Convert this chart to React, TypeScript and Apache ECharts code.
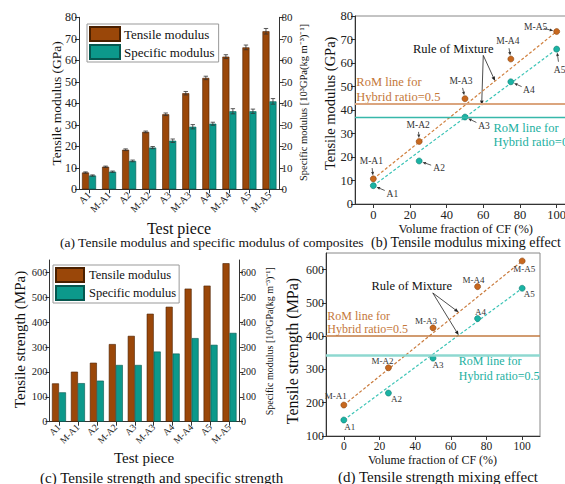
import React, { useEffect, useRef } from "react";
import * as echarts from "echarts";

// ---------- data ----------
const pieces = ["A1", "M-A1", "A2", "M-A2", "A3", "M-A3", "A4", "M-A4", "A5", "M-A5"];
const tensileModulus = [7.8, 10.5, 18.4, 26.7, 34.9, 44.7, 51.8, 61.7, 66.0, 73.5];
const tensileModulusErr = [0.3, 0.3, 0.4, 0.4, 0.6, 0.8, 0.8, 0.9, 1.1, 1.3];
const specificModulus = [6.4, 8.2, 13.2, 19.4, 22.6, 29.1, 30.5, 36.3, 36.3, 40.9];
const specificModulusErr = [0.3, 0.3, 0.4, 0.5, 0.8, 1.0, 0.7, 1.2, 1.0, 1.3];
const tensileStrength = [154, 201, 237, 312, 345, 434, 462, 535, 547, 637];
const specificStrength = [118, 155, 165, 228, 228, 282, 274, 336, 309, 357];

const cfFraction = [0, 25, 50, 75, 100];
const hybridNames = ["M-A1", "M-A2", "M-A3", "M-A4", "M-A5"];
const plainNames = ["A1", "A2", "A3", "A4", "A5"];
const modulusHybrid = [10.7, 26.6, 44.8, 61.7, 73.4];
const modulusPlain = [7.8, 18.3, 37.0, 52.0, 65.9];
const strengthHybrid = [193, 305, 425, 549, 626];
const strengthPlain = [148, 229, 334, 453, 544];
const romModulusHybrid = 42.5;
const romModulusPlain = 37.0;
const romStrengthHybrid = 400;
const romStrengthPlain = 343;

const modulusTicks = [0, 10, 20, 30, 40, 50, 60, 70, 80];
const percentTicks = [0, 20, 40, 60, 80, 100];
const strengthTicksC = [0, 100, 200, 300, 400, 500, 600];
const strengthTicksD = [100, 200, 300, 400, 500, 600];

// ---------- layout / style config ----------
const serif = "'Liberation Serif', 'Times New Roman', serif";
const BROWN = "#9A4709";
const TEAL = "#0C998B";
const PT_OR = "#C8681E";
const PT_TE = "#1AB3A4";
const BAR_W = 7;

const labelOffsetB: Record<string, [number, number]> = {
  "M-A1": [-2, -18], A1: [19, 8], "M-A2": [-1, -16], A2: [20, 7], "M-A3": [-4, -18],
  A3: [19, 9], "M-A4": [-3, -18], A4: [18, 8], "M-A5": [-21, -5], A5: [3, 21],
};
const labelOffsetD: Record<string, [number, number]> = {
  "M-A1": [-8, -9], A1: [6, 7], "M-A2": [-6, -7], A2: [8, 6], "M-A3": [-7, -7],
  A3: [5, 7], "M-A4": [-4, -7], A4: [3, -7], "M-A5": [2, 8], A5: [7, 6],
};

function arrowEls(x1: number, y1: number, x2: number, y2: number, head = 4.5, hw = 1.8, color = "#222") {
  const ang = Math.atan2(y2 - y1, x2 - x1);
  const bx = x2 - head * Math.cos(ang);
  const by = y2 - head * Math.sin(ang);
  const px = -Math.sin(ang) * hw;
  const py = Math.cos(ang) * hw;
  return [
    { type: "line", shape: { x1, y1, x2: bx, y2: by }, style: { stroke: color, lineWidth: 0.8 } },
    { type: "polygon", shape: { points: [[x2, y2], [bx + px, by + py], [bx - px, by - py]] }, style: { fill: color } },
  ];
}

function textEl(text: string, x: number, y: number, size: number, opts: any = {}) {
  const align = opts.align || "center";
  return {
    type: "text",
    x,
    y,
    rotation: opts.rotation || 0,
    silent: true,
    style: {
      text,
      fill: opts.color || "#111",
      font: `${size}px ${serif}`,
      align,
      textAlign: align,
      verticalAlign: "middle",
      textVerticalAlign: "middle",
    },
  };
}

function valueAxis(gridIndex: number, extra: any, fontSize: number, labelMargin = 2) {
  return {
    type: "value",
    gridIndex,
    axisLine: { show: true, onZero: false, lineStyle: { color: "#333", width: 1 } },
    axisTick: { show: true, inside: false, length: 4, lineStyle: { color: "#333" }, ...(extra.tickValues ? { customValues: extra.tickValues } : {}) },
    axisLabel: { color: "#222", fontSize, fontFamily: serif, margin: labelMargin, ...(extra.tickValues ? { customValues: extra.tickValues } : {}) },
    splitLine: { show: false },
    ...extra.base,
  };
}

function categoryAxis(gridIndex: number, fontSize: number) {
  return {
    type: "category",
    gridIndex,
    data: pieces,
    axisLine: { show: true, lineStyle: { color: "#333" } },
    axisTick: { show: true, alignWithLabel: true, length: 4, lineStyle: { color: "#333" } },
    axisLabel: { rotate: 45, fontSize, fontFamily: serif, color: "#222", margin: 4, interval: 0 },
    splitLine: { show: false },
  };
}

function errorSeries(xAxisIndex: number, yAxisIndex: number, values: number[], errs: number[], side: number) {
  return {
    type: "custom",
    xAxisIndex,
    yAxisIndex,
    z: 5,
    silent: true,
    data: values.map((v, i) => [i, v, errs[i]]),
    renderItem: (_p: any, api: any) => {
      const i = api.value(0);
      const v = api.value(1);
      const e = api.value(2);
      const top = api.coord([i, v + e]);
      const bot = api.coord([i, v - e]);
      const x = top[0] + (side * BAR_W) / 2;
      const cap = 2.2;
      const st = { stroke: "#333", lineWidth: 0.8 };
      return {
        type: "group",
        children: [
          { type: "line", shape: { x1: x, y1: top[1], x2: x, y2: bot[1] }, style: st },
          { type: "line", shape: { x1: x - cap, y1: top[1], x2: x + cap, y2: top[1] }, style: st },
          { type: "line", shape: { x1: x - cap, y1: bot[1], x2: x + cap, y2: bot[1] }, style: st },
        ],
      };
    },
  };
}

function annotSeries(xAxisIndex: number, yAxisIndex: number, ys: number[], names: string[], offsets: Record<string, [number, number]>, withArrow: boolean, fontSize: number) {
  return {
    type: "custom",
    xAxisIndex,
    yAxisIndex,
    z: 10,
    silent: true,
    data: cfFraction.map((x, i) => [x, ys[i], i]),
    renderItem: (_p: any, api: any) => {
      const i = api.value(2);
      const p = api.coord([api.value(0), api.value(1)]);
      const [dx, dy] = offsets[names[i]];
      const children: any[] = [
        {
          type: "text",
          x: p[0] + dx,
          y: p[1] + dy,
          style: { text: names[i], fill: "#333", font: `${fontSize}px ${serif}`, align: "center", verticalAlign: "middle" },
        },
      ];
      if (withArrow) {
        const len = Math.sqrt(dx * dx + dy * dy);
        const ux = dx / len;
        const uy = dy / len;
        children.push(...arrowEls(p[0] + dx * 0.6, p[1] + dy * 0.6, p[0] + ux * 3.5, p[1] + uy * 3.5, 3.5, 1.5, "#333"));
      }
      return { type: "group", children };
    },
  };
}

function barSeries(name: string, xAxisIndex: number, yAxisIndex: number, data: number[], color: string, border: string) {
  return {
    name,
    type: "bar",
    xAxisIndex,
    yAxisIndex,
    data,
    barWidth: BAR_W,
    barGap: "0%",
    itemStyle: { color, borderColor: border, borderWidth: 0.6 },
  };
}

function romSeries(name: string, xAxisIndex: number, yAxisIndex: number, ys: number[], color: string, rom: number, romColor: string, romWidth: number) {
  return {
    name,
    type: "line",
    xAxisIndex,
    yAxisIndex,
    z: 2,
    silent: true,
    symbol: "none",
    data: [
      [cfFraction[0], ys[0]],
      [cfFraction[cfFraction.length - 1], ys[ys.length - 1]],
    ],
    lineStyle: { color, width: 1.2, type: [3, 2] },
    markLine: {
      silent: true,
      symbol: "none",
      label: { show: false },
      data: [{ yAxis: rom, lineStyle: { color: romColor, width: romWidth, type: "solid" } }],
    },
  };
}

function scatterSeries(name: string, xAxisIndex: number, yAxisIndex: number, ys: number[], color: string, border: string) {
  return {
    name,
    type: "scatter",
    xAxisIndex,
    yAxisIndex,
    z: 4,
    symbolSize: 6,
    data: cfFraction.map((x, i) => [x, ys[i]]),
    itemStyle: { color, borderColor: border, borderWidth: 0.6, opacity: 1 },
  };
}

function lerp(xs: number[], ys: number[], x: number) {
  const x0 = xs[0];
  const x1 = xs[xs.length - 1];
  return ys[0] + ((ys[ys.length - 1] - ys[0]) * (x - x0)) / (x1 - x0);
}

export default function App() {
  const ref = useRef<HTMLDivElement>(null);
  useEffect(() => {
    document.body.style.margin = "0";
    const chart = echarts.init(ref.current!, undefined, { renderer: "svg", width: 565, height: 484 });
    const option: any = {
      animation: false,
      backgroundColor: "#fff",
      textStyle: { fontFamily: serif },
      grid: [
        { left: 79, top: 17.3, width: 200.5, height: 172, outerBoundsMode: "none" },
        { left: 355, top: 16, width: 220, height: 188, show: true, borderColor: "#888", borderWidth: 1, backgroundColor: "transparent", outerBoundsMode: "none" },
        { left: 49.5, top: 260, width: 189.5, height: 161.7, outerBoundsMode: "none" },
        { left: 326, top: 253, width: 214, height: 183, show: true, borderColor: "#888", borderWidth: 1, backgroundColor: "transparent", outerBoundsMode: "none" },
      ],
      legend: [
        {
          data: ["Tensile modulus", "Specific modulus"],
          left: 87,
          top: 24,
          orient: "vertical",
          icon: "rect",
          itemWidth: 30,
          itemHeight: 14,
          itemGap: 2,
          padding: [2, 4, 2, 2],
          borderColor: "#999",
          borderWidth: 1,
          borderRadius: 0,
          textStyle: { fontSize: 13, fontFamily: serif, color: "#111", padding: [0, 0, 0, -1] },
          selectedMode: false,
        },
        {
          data: ["Tensile modulus", "Specific modulus"],
          left: 53,
          top: 265,
          orient: "vertical",
          icon: "rect",
          itemWidth: 28,
          itemHeight: 14,
          itemGap: 2,
          padding: [2, 3, 2, 2],
          borderColor: "#999",
          borderWidth: 1,
          borderRadius: 0,
          textStyle: { fontSize: 12.5, fontFamily: serif, color: "#111" },
          selectedMode: false,
        },
      ],
      xAxis: [
        categoryAxis(0, 10),
        {
          ...valueAxis(1, { tickValues: percentTicks, base: { min: -10, max: 110 } }, 12.5, 4),
        },
        categoryAxis(2, 9.5),
        {
          ...valueAxis(3, { tickValues: percentTicks, base: { min: -10, max: 110 } }, 11.5, 4),
        },
      ],
      yAxis: [
        valueAxis(0, { base: { min: modulusTicks[0], max: modulusTicks[modulusTicks.length - 1], interval: 10 } }, 12),
        valueAxis(0, { base: { position: "right", min: modulusTicks[0], max: modulusTicks[modulusTicks.length - 1], interval: 10 } }, 11),
        valueAxis(1, { base: { min: modulusTicks[0], max: modulusTicks[modulusTicks.length - 1], interval: 10 } }, 12.5),
        valueAxis(2, { tickValues: strengthTicksC, base: { min: 0, max: 650 } }, 10.5),
        valueAxis(2, { tickValues: strengthTicksC, base: { position: "right", min: 0, max: 650 } }, 10),
        valueAxis(3, { tickValues: strengthTicksD, base: { min: 100, max: 650 } }, 12),
      ],
      series: [
        barSeries("Tensile modulus", 0, 0, tensileModulus, BROWN, "#4a2000"),
        barSeries("Specific modulus", 0, 1, specificModulus, TEAL, "#06574f"),
        errorSeries(0, 0, tensileModulus, tensileModulusErr, -1),
        errorSeries(0, 1, specificModulus, specificModulusErr, 1),

        romSeries("RoM hybrid (b)", 1, 2, modulusHybrid, "#D0803F", romModulusHybrid, "#DBA57E", 2),
        romSeries("RoM plain (b)", 1, 2, modulusPlain, "#3CC4B6", romModulusPlain, "#37B8AA", 1.4),
        scatterSeries("Hybrid (b)", 1, 2, modulusHybrid, PT_OR, "#8a4410"),
        scatterSeries("Plain (b)", 1, 2, modulusPlain, PT_TE, "#0f7c71"),
        annotSeries(1, 2, modulusHybrid, hybridNames, labelOffsetB, true, 9.5),
        annotSeries(1, 2, modulusPlain, plainNames, labelOffsetB, true, 9.5),

        barSeries("Tensile modulus", 2, 3, tensileStrength, BROWN, "#4a2000"),
        barSeries("Specific modulus", 2, 4, specificStrength, TEAL, "#06574f"),

        romSeries("RoM hybrid (d)", 3, 5, strengthHybrid, "#C97A3C", romStrengthHybrid, "#C27A40", 1.5),
        romSeries("RoM plain (d)", 3, 5, strengthPlain, "#3CC4B6", romStrengthPlain, "#8ED8D0", 2.5),
        scatterSeries("Hybrid (d)", 3, 5, strengthHybrid, PT_OR, "#8a4410"),
        scatterSeries("Plain (d)", 3, 5, strengthPlain, PT_TE, "#0f7c71"),
        annotSeries(3, 5, strengthHybrid, hybridNames, labelOffsetD, false, 9),
        annotSeries(3, 5, strengthPlain, plainNames, labelOffsetD, false, 9),
      ],
    };
    chart.setOption(option);

    const pB = (pt: number[]) => chart.convertToPixel({ gridIndex: 1 } as any, pt) as number[];
    const pD = (pt: number[]) => chart.convertToPixel({ gridIndex: 3 } as any, pt) as number[];

    // Rule of Mixture arrows
    const ruleB = pB([43.6, 65.8]);
    const bT1 = pB([66.4, lerp(cfFraction, modulusHybrid, 66.4)]);
    const bT2 = pB([59.1, lerp(cfFraction, modulusPlain, 59.1)]);
    const ruleD = pD([38.1, 551]);
    const dT1 = pD([64.4, lerp(cfFraction, strengthHybrid, 64.4)]);
    const dT2 = pD([64.4, lerp(cfFraction, strengthPlain, 64.4)]);

    const romB1 = pB([-9, romModulusHybrid]);
    const romB2 = pB([65.5, romModulusPlain]);
    const romD1 = pD([-9, romStrengthHybrid]);
    const romD2 = pD([64.5, romStrengthPlain]);

    const graphic: any[] = [
      // axis titles (a)
      textEl("Tensile modulus (GPa)", 56, 103.3, 13.5, { rotation: Math.PI / 2 }),
      textEl("Specific modulus [10³GPa(kg m⁻³)⁻¹]", 303.5, 102.5, 10.5, { rotation: Math.PI / 2 }),
      textEl("Test piece", 179, 228, 16),
      // (b)
      textEl("Tensile modulus (GPa)", 330, 103.3, 14.5, { rotation: Math.PI / 2 }),
      textEl("Volume fraction of CF (%)", 465.8, 229.3, 12.5),
      // captions top
      textEl("(a) Tensile modulus and specific modulus of composites", 60, 242.5, 13.5, { align: "left" }),
      textEl("(b) Tensile modulus mixing effect", 371, 242.5, 14, { align: "left" }),
      // (c)
      textEl("Tensile strength (MPa)", 20, 339.5, 15, { rotation: Math.PI / 2 }),
      textEl("Specific modulus [10³GPa(kg m⁻³)⁻¹]", 269.3, 341.3, 10, { rotation: Math.PI / 2 }),
      textEl("Test piece", 144, 458.3, 15),
      // (d)
      textEl("Tensile strength (MPa)", 292.3, 351, 16, { rotation: Math.PI / 2 }),
      textEl("Volume fraction of CF (%)", 432.5, 460, 12),
      textEl("(c) Tensile strength and specific strength", 40, 477.5, 15, { align: "left" }),
      textEl("(d) Tensile strength mixing effect", 338, 477, 15, { align: "left" }),

      // RoM texts (b)
      textEl("RoM line for", romB1[0] - 0.5, romB1[1] - 22.3, 12.5, { align: "left", color: "#C4773A" }),
      textEl("Hybrid ratio=0.5", romB1[0] - 0.5, romB1[1] - 7.4, 12.5, { align: "left", color: "#C4773A" }),
      textEl("RoM line for", romB2[0] + 0, romB2[1] + 10.5, 12.5, { align: "left", color: "#22B0A1" }),
      textEl("Hybrid ratio=0.5", romB2[0] + 0, romB2[1] + 24.5, 12.5, { align: "left", color: "#22B0A1" }),
      // RoM texts (d)
      textEl("RoM line for", romD1[0] - 0.5, romD1[1] - 20.3, 12, { align: "left", color: "#C4773A" }),
      textEl("Hybrid ratio=0.5", romD1[0] - 0.5, romD1[1] - 7, 12, { align: "left", color: "#C4773A" }),
      textEl("RoM line for", romD2[0], romD2[1] + 5.8, 12, { align: "left", color: "#22B0A1" }),
      textEl("Hybrid ratio=0.5", romD2[0], romD2[1] + 20.6, 12, { align: "left", color: "#22B0A1" }),

      // Rule of mixture
      textEl("Rule of Mixture", ruleB[0], ruleB[1], 12.5, { color: "#111" }),
      ...arrowEls(ruleB[0] + 30, ruleB[1] + 6, bT1[0], bT1[1]),
      ...arrowEls(ruleB[0] + 30, ruleB[1] + 6, bT2[0], bT2[1]),
      textEl("Rule of Mixture", ruleD[0], ruleD[1], 12.5, { color: "#111" }),
      ...arrowEls(ruleD[0] + 21, ruleD[1] + 7, dT1[0], dT1[1]),
      ...arrowEls(ruleD[0] + 21, ruleD[1] + 7, dT2[0], dT2[1]),
    ];
    chart.setOption({ graphic });
    return () => chart.dispose();
  }, []);
  return <div ref={ref} style={{ width: 565, height: 484, position: "absolute", left: 0, top: 0, background: "#fff" }} />;
}
